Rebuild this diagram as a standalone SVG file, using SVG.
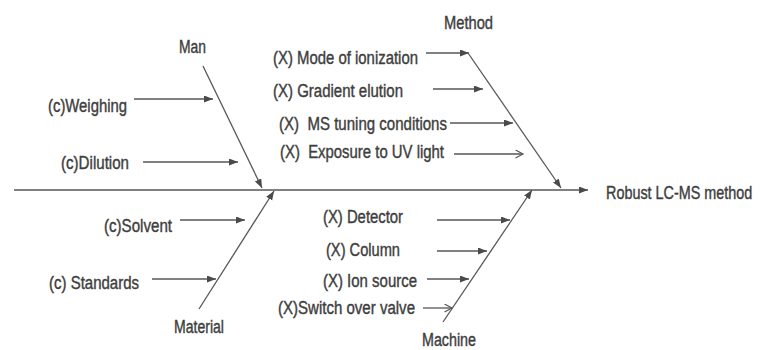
<svg xmlns="http://www.w3.org/2000/svg" width="760" height="350" viewBox="0 0 760 350">
<style>
  .t { font-family: "Liberation Sans", Arial, sans-serif; font-size: 18px; fill: #3e3e3e; stroke: #3e3e3e; stroke-width: 0.4px; }
  .ln { stroke: #575757; stroke-width: 1.3; fill: none; }
  .fa { marker-end: url(#fill); }
  .oa { marker-end: url(#open); }
</style>
<defs>
  <marker id="fill" markerUnits="userSpaceOnUse" markerWidth="10" markerHeight="8" refX="9" refY="3.5" orient="auto">
    <path d="M0,0 L9,3.5 L0,7 z" fill="#4a4a4a"/>
  </marker>
  <marker id="open" markerUnits="userSpaceOnUse" markerWidth="10" markerHeight="10" refX="8.5" refY="4.5" orient="auto">
    <path d="M1,0.5 L8.5,4.5 L1,8.5" fill="none" stroke="#575757" stroke-width="1.2"/>
  </marker>
</defs>
<rect width="760" height="350" fill="#ffffff"/>
<g id="connectors">
  <line class="ln fa" x1="14" y1="190" x2="588" y2="190"/>
  <line class="ln fa" x1="203" y1="66" x2="262" y2="188"/>
  <line class="ln fa" x1="199" y1="309" x2="274" y2="191"/>
  <line class="ln fa" x1="468" y1="53" x2="561" y2="188"/>
  <line class="ln fa" x1="443" y1="322" x2="532" y2="190"/>
  <line class="ln fa" x1="134" y1="99" x2="213" y2="99"/>
  <line class="ln fa" x1="143" y1="162" x2="238" y2="162"/>
  <line class="ln fa" x1="180" y1="220" x2="245" y2="220"/>
  <line class="ln fa" x1="152" y1="279" x2="216" y2="279"/>
  <line class="ln fa" x1="426" y1="53" x2="469" y2="53"/>
  <line class="ln fa" x1="433" y1="89" x2="483" y2="89"/>
  <line class="ln fa" x1="450" y1="123" x2="513" y2="123"/>
  <line class="ln oa" x1="454" y1="154" x2="523" y2="154"/>
  <line class="ln fa" x1="437" y1="220" x2="510" y2="220"/>
  <line class="ln fa" x1="437" y1="251" x2="487" y2="251"/>
  <line class="ln fa" x1="427" y1="279" x2="469" y2="279"/>
  <line class="ln oa" x1="423" y1="308" x2="452" y2="308"/>
</g>
<g id="effect"><text class="t" transform="translate(606,199) scale(0.8,1)" x="0" y="0">Robust LC-MS method</text></g>
<g id="man"><text class="t" x="179" y="53" textLength="27" lengthAdjust="spacingAndGlyphs">Man</text></g>
<g id="method"><text class="t" x="444" y="29" textLength="49" lengthAdjust="spacingAndGlyphs">Method</text></g>
<g id="material"><text class="t" x="174" y="333" textLength="50" lengthAdjust="spacingAndGlyphs">Material</text></g>
<g id="machine"><text class="t" x="422" y="346" font-size="17" textLength="54" lengthAdjust="spacingAndGlyphs">Machine</text></g>
<g id="weighing"><text class="t" x="48" y="112" textLength="79" lengthAdjust="spacingAndGlyphs">(c)Weighing</text></g>
<g id="dilution"><text class="t" x="61" y="169" textLength="68" lengthAdjust="spacingAndGlyphs">(c)Dilution</text></g>
<g id="solvent"><text class="t" x="104" y="232" textLength="68" lengthAdjust="spacingAndGlyphs">(c)Solvent</text></g>
<g id="standards"><text class="t" x="49" y="289" textLength="90" lengthAdjust="spacingAndGlyphs">(c) Standards</text></g>
<g id="mode"><text class="t" x="273" y="64" textLength="145" lengthAdjust="spacingAndGlyphs">(X) Mode of ionization</text></g>
<g id="gradient"><text class="t" x="273" y="97" textLength="130" lengthAdjust="spacingAndGlyphs">(X) Gradient elution</text></g>
<g id="mstuning"><text class="t" x="279" y="130" textLength="168" lengthAdjust="spacingAndGlyphs" xml:space="preserve">(X)  MS tuning conditions</text></g>
<g id="exposure"><text class="t" x="280" y="158" textLength="164" lengthAdjust="spacingAndGlyphs" xml:space="preserve">(X)  Exposure to UV light</text></g>
<g id="detector"><text class="t" x="323" y="223" textLength="80" lengthAdjust="spacingAndGlyphs">(X) Detector</text></g>
<g id="column"><text class="t" x="326" y="256" textLength="74" lengthAdjust="spacingAndGlyphs">(X) Column</text></g>
<g id="ionsource"><text class="t" x="323" y="287" textLength="94" lengthAdjust="spacingAndGlyphs">(X) Ion source</text></g>
<g id="switch"><text class="t" x="278" y="314" textLength="137" lengthAdjust="spacingAndGlyphs">(X)Switch over valve</text></g>
</svg>
